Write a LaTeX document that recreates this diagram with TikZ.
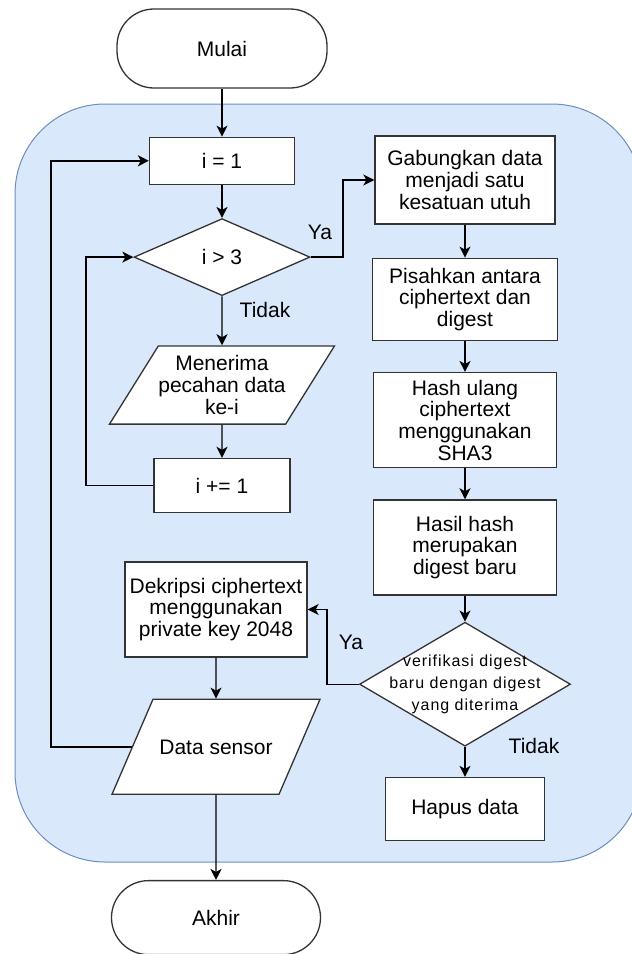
\documentclass[tikz,border=0pt]{standalone}
\usepackage{fontspec}
\setmainfont{Liberation Sans}
\usetikzlibrary{positioning, arrows.meta, shapes.geometric}
\definecolor{areafill}{HTML}{DAE8FC}
\definecolor{areadraw}{HTML}{6C8EBF}

\begin{document}
\begin{tikzpicture}[x=1pt, y=1pt, font=\fontsize{21}{21.7}\selectfont,
	process/.style={draw=black!80, line width=1.3pt, fill=white, align=center, inner sep=2pt},
	decision/.style={draw=black!80, line width=1.3pt, fill=white, diamond, inner sep=0pt, align=center},
	io/.style={draw=black!80, line width=1.3pt, fill=white, trapezium, trapezium stretches body=true, align=center, inner xsep=0pt},
	terminal/.style={draw=black!80, line width=1.3pt, fill=white, rounded corners=37pt, align=center},
	smalltext/.style={font=\fontsize{16}{21.7}\selectfont\addfontfeatures{LetterSpace=6}, align=center},
	arrow/.style={-{Stealth[length=11pt, width=11pt, inset=3pt]}, line width=1.4pt}]

	\useasboundingbox (0,0) rectangle (632,-954);
	\draw[areadraw, fill=areafill, line width=1pt, rounded corners=90pt] (15,-104) rectangle (642,-862);

	\node[terminal, minimum width=210pt, minimum height=79pt] (mulai) at (222,-48.5) {Mulai};
	\node[process, minimum width=145pt, minimum height=47pt, below=48pt of mulai] (init) {i = 1};
	\node[decision, minimum width=176pt, minimum height=77pt, below=33pt of init] (cek) {i > 3};
	\node[io, trapezium left angle=58, trapezium right angle=122, inner ysep=9.7pt, minimum width=209pt, minimum height=78pt, below=49pt of cek] (terima) {Menerima\\pecahan data\\ke-i};
	\node[process, minimum width=136pt, minimum height=54pt, below=33pt of terima] (tambah) {i += 1};

	\node[process, minimum width=180pt, minimum height=88pt] (gabung) at (465,-180) {Gabungkan data\\menjadi satu\\kesatuan utuh};
	\node[process, minimum width=185pt, minimum height=82pt, below=33pt of gabung] (pisah) {Pisahkan antara\\ciphertext dan\\digest};
	\node[process, minimum width=183pt, minimum height=95pt, below=31pt of pisah] (hash) {Hash ulang\\ciphertext\\menggunakan\\SHA3};
	\node[process, minimum width=183pt, minimum height=95pt, below=31pt of hash] (hasil) {Hasil hash\\merupakan\\digest baru};
	\node[decision, minimum width=211pt, minimum height=124pt, below=26pt of hasil,
		label={[smalltext]center:verifikasi digest\\baru dengan digest\\yang diterima}] (verif) {};
	\node[process, minimum width=159pt, minimum height=63pt, below=30pt of verif] (hapus) {Hapus data};

	\node[process, minimum width=182pt, minimum height=95pt] (dekrip) at (216,-609.5) {Dekripsi ciphertext\\menggunakan\\private key 2048};
	\node[io, trapezium left angle=66.66, trapezium right angle=113.34, text height=15pt, text depth=0pt, inner ysep=40pt, minimum width=208pt, minimum height=95pt, below=41pt of dekrip] (data) {Data sensor};
	\node[terminal, minimum width=209pt, minimum height=74pt, below=85pt of data] (akhir) {Akhir};

	% titik belok untuk garis balik
	\coordinate (luar) at (51,0);
	\coordinate (dalam) at (86,0);
	\coordinate (belokya) at (343,0);
	\coordinate (belokverif) at (327,0);

	\draw[arrow] (mulai) -- (init);
	\draw[arrow] (init) -- (cek);
	\draw[arrow] (cek) -- (terima);
	\draw[arrow] (terima) -- (tambah);
	\draw[arrow] (tambah.west) -- (tambah.west -| dalam) |- (cek.west);
	\draw[arrow] (cek.east) -- (cek.east -| belokya) |- (gabung.west);

	\draw[arrow] (gabung) -- (pisah);
	\draw[arrow] (pisah) -- (hash);
	\draw[arrow] (hash) -- (hasil);
	\draw[arrow] (hasil) -- (verif);
	\draw[arrow] (verif) -- (hapus);
	\draw[arrow] (verif.west) -- (verif.west -| belokverif) |- (dekrip.east);

	\draw[arrow] (dekrip) -- (data);
	\draw[arrow] (data) -- (akhir);
	\draw[arrow] (data.left side) -- (data.left side -| luar) |- (init.west);

	\node (ya1) at (320,-232) {Ya};
	\node (tidak1) at (265,-310) {Tidak};
	\node (ya2) at (351,-642) {Ya};
	\node (tidak2) at (534,-746) {Tidak};
\end{tikzpicture}
\end{document}
